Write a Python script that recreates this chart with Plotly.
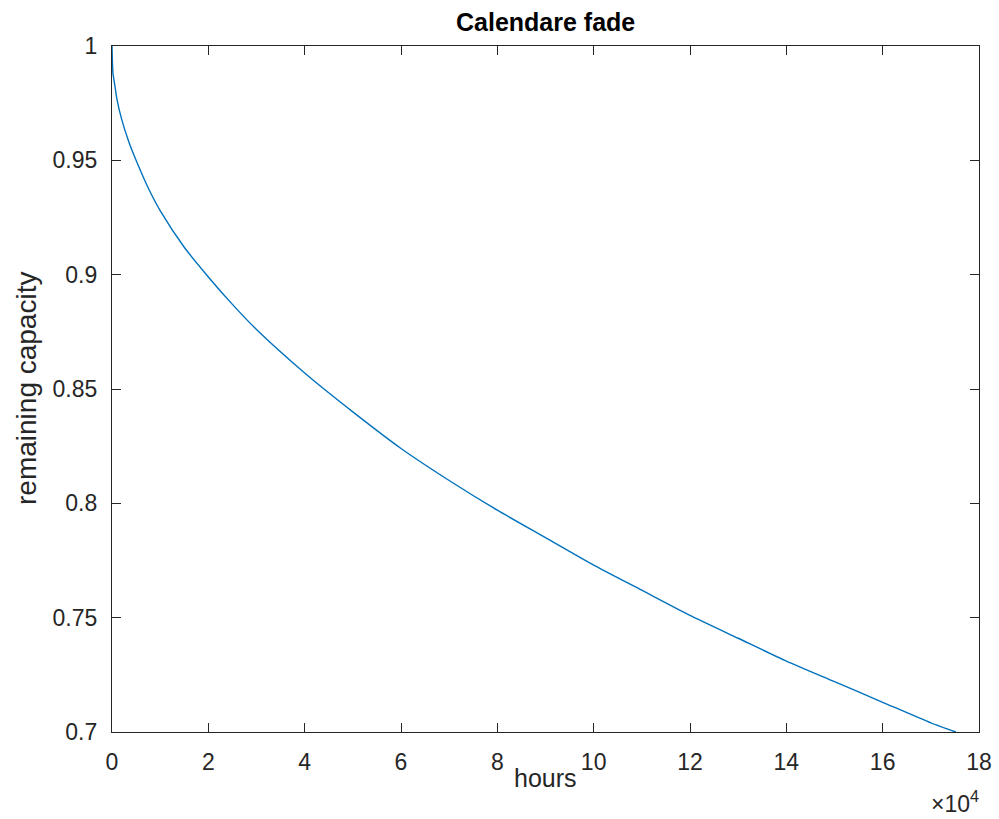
import plotly.graph_objects as go

# hours in units of 1e4
hours_e4 = [0, 0.02, 0.05, 0.1, 0.2, 0.35, 0.5, 0.75, 1, 1.5, 2, 2.5, 3, 4, 5, 6, 7,
            8, 9, 10, 11, 12, 13, 14, 15, 16, 17, 17.52]
capacity = [1.0, 0.988, 0.984, 0.977, 0.968, 0.958, 0.950, 0.938, 0.928, 0.912, 0.899,
            0.887, 0.876, 0.857, 0.840, 0.824, 0.810, 0.797, 0.785, 0.773, 0.762,
            0.751, 0.741, 0.731, 0.722, 0.713, 0.704, 0.700]

x_ticks = [0, 2, 4, 6, 8, 10, 12, 14, 16, 18]
y_ticks = [0.7, 0.75, 0.8, 0.85, 0.9, 0.95, 1.0]
y_tick_labels = ["0.7", "0.75", "0.8", "0.85", "0.9", "0.95", "1"]

axis_col = "#262626"
font_fam = "Liberation Sans, Arial, sans-serif"

fig = go.Figure()
fig.add_trace(go.Scatter(x=hours_e4, y=capacity, mode="lines",
                         line=dict(color="#0072BD", width=1.4, shape="spline", smoothing=0.6),
                         showlegend=False, hoverinfo="skip"))

fig.update_layout(
    width=999, height=819,
    margin=dict(l=112, r=20, t=46, b=87),
    paper_bgcolor="white", plot_bgcolor="white",
    font=dict(family=font_fam, color=axis_col, size=24),
    xaxis=dict(range=[0, 18], tickvals=x_ticks, ticktext=[str(v) for v in x_ticks],
               ticks="inside", ticklen=9, tickwidth=1, tickcolor=axis_col,
               showline=True, linecolor=axis_col, linewidth=1.2, mirror="ticks",
               showgrid=False, zeroline=False, ticklabelstandoff=9, automargin=False,
               tickfont=dict(size=23, color=axis_col, family=font_fam)),
    yaxis=dict(range=[0.7, 1.0], tickvals=y_ticks, ticktext=y_tick_labels,
               ticks="inside", ticklen=9, tickwidth=1, tickcolor=axis_col,
               showline=True, linecolor=axis_col, linewidth=1.2, mirror="ticks",
               showgrid=False, zeroline=False, ticklabelstandoff=9, automargin=False,
               tickfont=dict(size=23, color=axis_col, family=font_fam)),
    annotations=[
        dict(text="<b>Calendare fade</b>", x=0.5, y=1, xref="paper", yref="paper",
             xanchor="center", yanchor="middle", yshift=24, showarrow=False,
             font=dict(size=25, color="black", family=font_fam)),
        dict(text="hours", x=0.5, y=0, xref="paper", yref="paper",
             xanchor="center", yanchor="middle", yshift=-46, showarrow=False,
             font=dict(size=25, color=axis_col, family=font_fam)),
        dict(text="remaining capacity", x=0, y=0.5, xref="paper", yref="paper",
             xanchor="center", yanchor="middle", xshift=-86, textangle=-90, showarrow=False,
             font=dict(size=28, color=axis_col, family=font_fam)),
        dict(text="×10<sup>4</sup>", x=1, y=0, xref="paper", yref="paper",
             xanchor="right", yanchor="middle", yshift=-70, xshift=2, showarrow=False,
             font=dict(size=23, color=axis_col, family=font_fam)),
    ],
)

fig.write_html("out.html")
